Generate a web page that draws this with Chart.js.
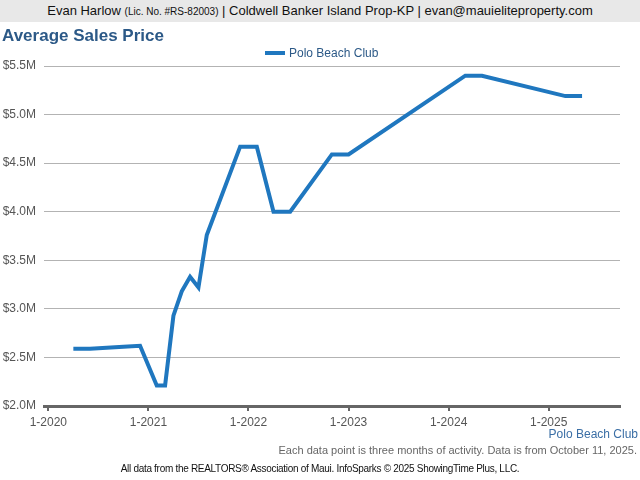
<!DOCTYPE html>
<html>
<head>
<meta charset="utf-8">
<script src="https://cdn.jsdelivr.net/npm/chart.js@4/dist/chart.umd.min.js"></script>
<style>
  html, body { margin: 0; padding: 0; background: #fff; }
  body { width: 640px; height: 480px; position: relative; overflow: hidden; font-family: "Liberation Sans", Arial, sans-serif; }
  #header { position: absolute; left: 0; top: 0; width: 640px; height: 22px; background: #e8e8e8; text-align: center; font-size: 13px; line-height: 22px; color: #111; }
  #header small { font-size: 10px; }
  #title { position: absolute; left: 2px; top: 26px; font-size: 17px; font-weight: bold; color: #2c5987; white-space: nowrap; }
  #legend { position: absolute; left: 265px; top: 45px; font-size: 12px; color: #2c5987; white-space: nowrap; line-height: 16px; }
  #legend span.sw { display: inline-block; width: 20px; height: 4px; background: #1f77bf; vertical-align: middle; margin-right: 4px; position: relative; top: -1px; }
  #wrap { position: absolute; left: 0; top: 0; width: 640px; height: 480px; }
  #series { position: absolute; right: 2px; top: 427px; font-size: 12px; color: #3a6ea5; white-space: nowrap; }
  #note { position: absolute; right: 3px; top: 444px; font-size: 11px; color: #666; white-space: nowrap; }
  #credit { position: absolute; left: 0; width: 640px; top: 463px; text-align: center; font-size: 10px; color: #111; white-space: nowrap; letter-spacing: -0.3px; }
</style>
</head>
<body>
<div id="wrap"><canvas id="c" width="640" height="480"></canvas></div>
<div id="header">Evan Harlow <small>(Lic. No. #RS-82003)</small> | Coldwell Banker Island Prop-KP | evan@mauieliteproperty.com</div>
<div id="title">Average Sales Price</div>
<div id="legend"><span class="sw"></span>Polo Beach Club</div>
<div id="series">Polo Beach Club</div>
<div id="note">Each data point is three months of activity. Data is from October 11, 2025.</div>
<div id="credit">All data from the REALTORS® Association of Maui. InfoSparks © 2025 ShowingTime Plus, LLC.</div>
<script>
// Data (month-year, average sales price in $M)
const months = ["4-2020","6-2020","10-2020","12-2020","2-2021","3-2021","4-2021","5-2021","6-2021","7-2021","8-2021","12-2021","2-2022","4-2022","6-2022","11-2022","1-2023","3-2024","5-2024","3-2025","5-2025"];
const prices = [2.59,2.59,2.61,2.62,2.21,2.21,2.93,3.18,3.33,3.22,3.76,4.67,4.67,4.00,4.00,4.59,4.59,5.40,5.40,5.19,5.19];
const seriesName = "Polo Beach Club";
const xTickLabels = ["1-2020","1-2021","1-2022","1-2023","1-2024","1-2025"];
const yTickValues = [2.0,2.5,3.0,3.5,4.0,4.5,5.0,5.5];

function monthIndex(label) {
  const [m, y] = label.split("-").map(Number);
  return (y - 2020) * 12 + (m - 1);
}
const points = months.map((mm, i) => ({ x: monthIndex(mm), y: prices[i] }));
const xTickValues = xTickLabels.map(monthIndex);

new Chart(document.getElementById("c"), {
  type: "line",
  data: {
    datasets: [{
      label: seriesName,
      data: points,
      borderColor: "#1f77bf",
      backgroundColor: "#1f77bf",
      borderWidth: 4,
      pointRadius: 0,
      tension: 0,
      fill: false
    }]
  },
  options: {
    responsive: false,
    animation: false,
    events: [],
    layout: { padding: { left: 0, top: 66, right: 20, bottom: 40 } },
    plugins: { legend: { display: false }, title: { display: false }, tooltip: { enabled: false } },
    scales: {
      x: {
        type: "linear",
        min: -0.52,
        max: 68.55,
        afterBuildTicks: (s) => { s.ticks = xTickValues.map(v => ({ value: v })); },
        afterFit: (s) => { s.height = 34; },
        ticks: {
          callback: (v) => { const i = xTickValues.indexOf(v); return i >= 0 ? xTickLabels[i] : ""; },
          color: "#555",
          font: { family: "'Liberation Sans', Arial, sans-serif", size: 12 },
          padding: 4,
          maxRotation: 0,
          autoSkip: false
        },
        grid: { display: true, drawOnChartArea: false, drawTicks: true, tickLength: 5, color: "#666", lineWidth: 2 },
        border: { display: true, color: "#666", width: 3 }
      },
      y: {
        min: 2.0,
        max: 5.5,
        afterBuildTicks: (s) => { s.ticks = yTickValues.map(v => ({ value: v })); },
        afterFit: (s) => { s.width = 44; },
        ticks: {
          callback: (v) => "$" + Number(v).toFixed(1) + "M",
          color: "#555",
          font: { family: "'Liberation Sans', Arial, sans-serif", size: 12 },
          padding: 8
        },
        grid: { color: "#b3b3b3", lineWidth: 1, drawTicks: false },
        border: { display: false }
      }
    }
  }
});
</script>
</body>
</html>
